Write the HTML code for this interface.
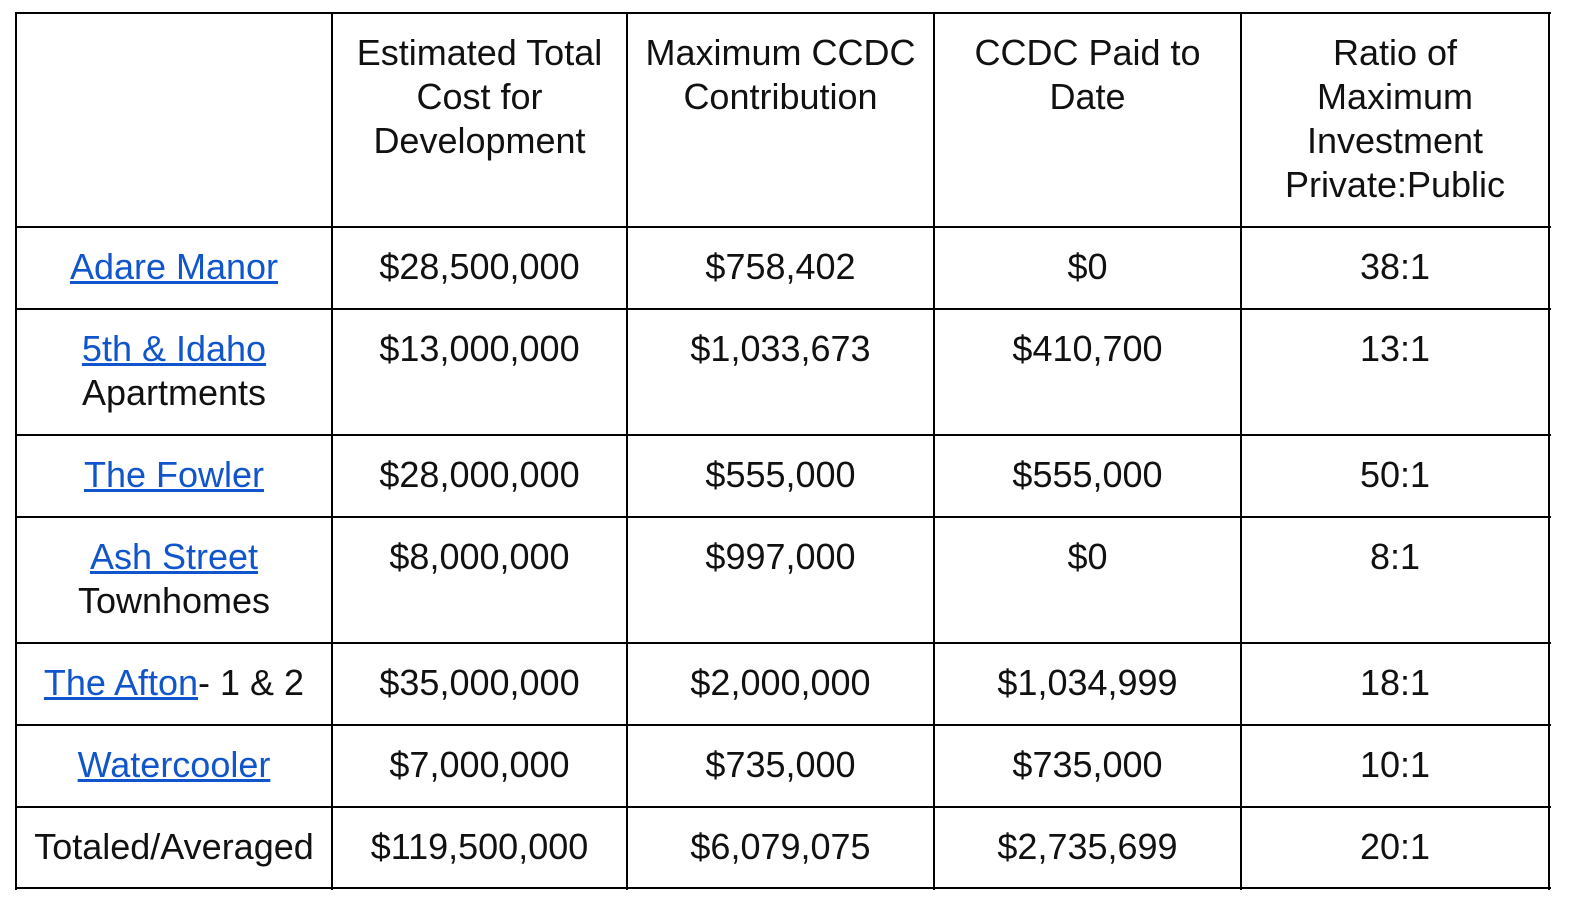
<!DOCTYPE html>
<html><head><meta charset="utf-8"><style>
html,body{margin:0;padding:0;background:#fff;width:1592px;height:924px;overflow:hidden;position:relative}
.c{position:absolute;box-sizing:border-box;font-family:"Liberation Sans",Arial,sans-serif;font-size:36px;line-height:44px;color:#111;text-align:center;padding-top:18px;white-space:nowrap}
.h{position:absolute;background:#000;height:2px}
.v{position:absolute;background:#000;width:2px}
a{color:#1155cc;text-decoration:underline}
</style></head><body>
<div id="grid"></div>
<div id="cells">
<!-- cells placed by script below -->
</div>
<script>
const xs=[16,332,627,934,1241,1549];
const ys=[13,227,309,435,517,643,725,807,888];
const grid=document.getElementById('grid');
ys.forEach(y=>{const d=document.createElement('div');d.className='h';d.style.left='15px';d.style.top=(y-1)+'px';d.style.width=(1550-15+1)+'px';


grid.appendChild(d);});
xs.forEach(x=>{const d=document.createElement('div');d.className='v';d.style.left=(x-1)+'px';d.style.top='12px';d.style.height=(889-12+1)+'px';


grid.appendChild(d);});
const rows=[
['','Estimated Total<br>Cost for<br>Development','Maximum CCDC<br>Contribution','CCDC Paid to<br>Date','Ratio of<br>Maximum<br>Investment<br>Private:Public'],
['<a href="#">Adare Manor</a>','$28,500,000','$758,402','$0','38:1'],
['<a href="#">5th &amp; Idaho</a><br>Apartments','$13,000,000','$1,033,673','$410,700','13:1'],
['<a href="#">The Fowler</a>','$28,000,000','$555,000','$555,000','50:1'],
['<a href="#">Ash Street</a><br>Townhomes','$8,000,000','$997,000','$0','8:1'],
['<a href="#">The Afton</a>- 1 &amp; 2','$35,000,000','$2,000,000','$1,034,999','18:1'],
['<a href="#">Watercooler</a>','$7,000,000','$735,000','$735,000','10:1'],
['Totaled/Averaged','$119,500,000','$6,079,075','$2,735,699','20:1']];
const cells=document.getElementById('cells');
rows.forEach((r,i)=>r.forEach((t,j)=>{const d=document.createElement('div');d.className='c';
d.style.left=xs[j]+'px';d.style.width=(xs[j+1]-xs[j])+'px';d.style.top=ys[i]+'px';d.style.height=(ys[i+1]-ys[i])+'px';
d.innerHTML=t;


cells.appendChild(d);}));
</script>
</body></html>
